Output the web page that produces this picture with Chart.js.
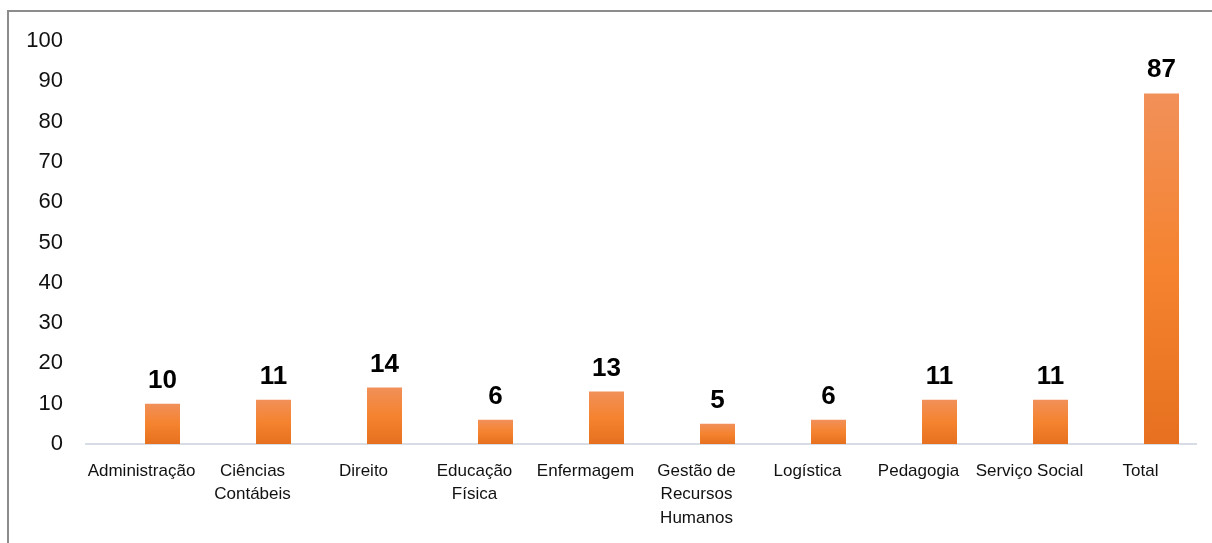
<!DOCTYPE html>
<html>
<head>
<meta charset="utf-8">
<script src="https://cdn.jsdelivr.net/npm/chart.js@4/dist/chart.umd.min.js"></script>
<style>
  html, body { margin: 0; padding: 0; background: #fff; overflow: hidden; }
  #wrap { position: absolute; left: 0; top: 0; width: 1212px; height: 543px; }
  #frame { position: absolute; left: 7px; top: 10px; right: -10px; bottom: -10px;
           border-top: 2px solid #8c8c8c; border-left: 2px solid #8c8c8c; pointer-events: none; }
</style>
</head>
<body>
<div id="wrap">
  <canvas id="graph" width="1212" height="543"></canvas>
  <div id="frame"></div>
</div>
<script>
var categories = [
    "Administração",
    ["Ciências", "Contábeis"],
    "Direito",
    ["Educação", "Física"],
    "Enfermagem",
    ["Gestão de", "Recursos", "Humanos"],
    "Logística",
    "Pedagogia",
    "Serviço Social",
    "Total"
];
var values = [10, 11, 14, 6, 13, 5, 6, 11, 11, 87];
// empty series, it only takes the left slot of each group (as in the original)
var emptySeries = [null, null, null, null, null, null, null, null, null, null];
var yTicks = [0, 10, 20, 30, 40, 50, 60, 70, 80, 90, 100];

var FONT = "'Liberation Sans', Arial, sans-serif";

function barGradient(context) {
    var chart = context.chart;
    if (!chart.chartArea || context.raw == null) return "#F5832F";
    var y = chart.scales.y;
    var top = y.getPixelForValue(context.raw);
    var base = y.getPixelForValue(0);
    var g = chart.ctx.createLinearGradient(0, top, 0, base);
    g.addColorStop(0, "#F19059");
    g.addColorStop(0.5, "#F5832F");
    g.addColorStop(1, "#E6701F");
    return g;
}

// draw the bold value above each bar
var valueLabels = {
    id: "valueLabels",
    afterDatasetsDraw: function(chart) {
        var ctx = chart.ctx;
        var meta = chart.getDatasetMeta(1);
        ctx.save();
        ctx.font = "bold 26px " + FONT;
        ctx.fillStyle = "#000";
        ctx.textAlign = "center";
        ctx.textBaseline = "alphabetic";
        meta.data.forEach(function(bar, i) {
            ctx.fillText(String(values[i]), bar.x, bar.y - 16);
        });
        ctx.restore();
    }
};

var ctx = document.getElementById("graph").getContext("2d");
var chart = new Chart(ctx, {
    type: "bar",
    data: {
        labels: categories,
        datasets: [
            { label: "", data: emptySeries, backgroundColor: "rgba(0,0,0,0)" },
            { label: "Cursos", data: values, backgroundColor: barGradient }
        ]
    },
    options: {
        responsive: false,
        animation: false,
        categoryPercentage: 0.757,
        barPercentage: 0.833,
        layout: { padding: { top: 41, right: 16, left: 0, bottom: 0 } },
        plugins: { legend: { display: false }, tooltip: { enabled: false } },
        scales: {
            x: {
                grid: { display: false, drawTicks: false },
                border: { display: true, color: "#D8DDE5", width: 2 },
                ticks: {
                    color: "#111",
                    font: { family: FONT, size: 17, lineHeight: 1.4 },
                    padding: 15,
                    maxRotation: 0,
                    autoSkip: false
                },
                afterFit: function(scale) { scale.height = 99; }
            },
            y: {
                min: 0,
                max: 100,
                afterBuildTicks: function(scale) {
                    scale.ticks = yTicks.map(function(v) { return { value: v }; });
                },
                grid: { display: false, drawTicks: false },
                border: { display: false },
                ticks: {
                    color: "#111",
                    font: { family: FONT, size: 22 },
                    padding: 23
                },
                afterFit: function(scale) { scale.width = 86; }
            }
        }
    },
    plugins: [valueLabels]
});
</script>
</body>
</html>
